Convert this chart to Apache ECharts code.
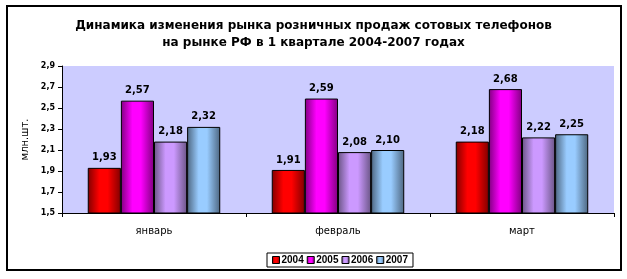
<!DOCTYPE html>
<html><head><meta charset="utf-8">
<script src="https://cdn.jsdelivr.net/npm/echarts@6/dist/echarts.min.js"></script>
<style>html,body{margin:0;padding:0;background:#fff}#c{width:627px;height:279px}</style>
</head><body><div id="c"></div>
<script>
const categories = ['январь', 'февраль', 'март'];
const years = ['2004', '2005', '2006', '2007'];
const s2004 = [1.93, 1.91, 2.18];
const s2005 = [2.57, 2.59, 2.68];
const s2006 = [2.18, 2.08, 2.22];
const s2007 = [2.32, 2.10, 2.25];
const yTicks = [1.5, 1.7, 1.9, 2.1, 2.3, 2.5, 2.7, 2.9];

const baseColors = ['#FF0000', '#FF00FF', '#CC99FF', '#99CCFF'];
const darkColors = ['#800000', '#800080', '#6a5585', '#4d6680'];
const seriesData = [s2004, s2005, s2006, s2007];

function grad(i){
  return new echarts.graphic.LinearGradient(0,0,1,0,[
    {offset:0,color:darkColors[i]},
    {offset:0.35,color:baseColors[i]},
    {offset:0.6,color:baseColors[i]},
    {offset:1,color:darkColors[i]}
  ]);
}
const chart = echarts.init(document.getElementById('c'), null, {renderer:'canvas'});
const FONT = 'DejaVu Sans';
chart.setOption({
  animation:false,
  title:{
    text:'Динамика изменения рынка розничных продаж сотовых телефонов\nна рынке РФ в 1 квартале 2004-2007 годах',
    left:'center', top:12,
    textStyle:{fontFamily:FONT,fontWeight:'bold',fontSize:12,color:'#000',lineHeight:17}
  },
  graphic:[{type:'rect',shape:{x:7,y:6,width:614,height:264},style:{fill:'none',stroke:'#000',lineWidth:2},z:100}],
  legend:{
    data:years, left:267, top:253, orient:'horizontal',
    itemWidth:7, itemHeight:7, itemGap:3, icon:'rect',
    borderColor:'#000', borderWidth:1, padding:[2,5],
    textStyle:{fontFamily:'Liberation Sans',fontWeight:'bold',fontSize:10,color:'#000',padding:[0,0,0,-3]},
    itemStyle:{borderColor:'#000',borderWidth:1}
  },
  grid:{left:62,right:13,top:66,bottom:66,show:true,backgroundColor:'#CCCCFF',borderWidth:0},
  xAxis:{
    type:'category', data:categories,
    axisLine:{lineStyle:{color:'#000',width:1}},
    axisTick:{show:true,length:4,lineStyle:{color:'#000'}},
    axisLabel:{fontFamily:FONT,fontSize:10,color:'#000',margin:13}
  },
  yAxis:{
    type:'value', min:yTicks[0], max:yTicks[yTicks.length-1], interval:0.2,
    name:'млн.шт.', nameLocation:'middle', nameGap:23, nameRotate:90,
    nameTextStyle:{fontFamily:FONT,fontSize:10,color:'#000'},
    axisLine:{show:true,lineStyle:{color:'#000'}},
    axisTick:{show:true,length:4,lineStyle:{color:'#000'}},
    splitLine:{show:false},
    axisLabel:{fontFamily:FONT,fontSize:8,fontWeight:'bold',color:'#000',margin:7,
      formatter:v=>v.toFixed(1).replace('.',',')}
  },
  series: years.map((y,i)=>({
    name:y, type:'bar', data:seriesData[i],
    barGap:'0%', barCategoryGap:'28%',
    itemStyle:{color:grad(i),borderColor:'#000',borderWidth:1},
    label:{show:true,position:'top',distance:5,fontFamily:FONT,fontWeight:'bold',fontSize:10,color:'#000',
      formatter:p=>p.value.toFixed(2).replace('.',',')}
  }))
});
</script></body></html>
